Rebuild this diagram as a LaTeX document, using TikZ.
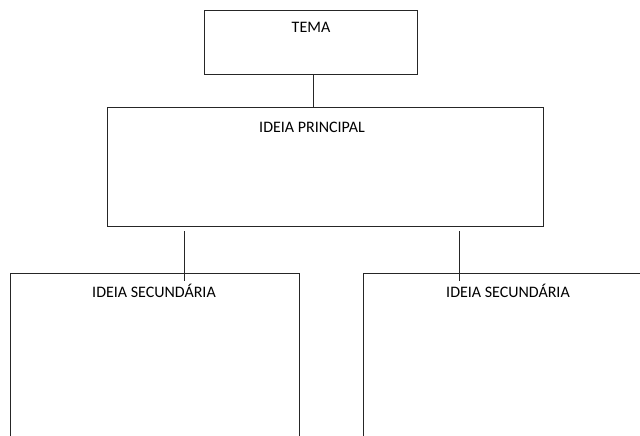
\documentclass[tikz,border=0pt]{standalone}
\usepackage{fontspec}
\setmainfont{Carlito}
\begin{document}
\begin{tikzpicture}[x=1pt,y=-1pt,
  ln/.style={draw=black!85,line width=1pt},
  lbl/.style={font=\fontsize{16}{19}\selectfont,text=black,inner sep=0pt},
  boxnode/.style={ln,rectangle,inner sep=0pt}]
\useasboundingbox (0,0) rectangle (640,436);
% TEMA box
\node[boxnode,minimum width=213pt,minimum height=64pt] (tema) at (311,43) {};
\node[lbl] (temat) at (311,27) {TEMA};
% principal box
\node[boxnode,minimum width=436pt,minimum height=119pt] (princ) at (325.5,166.5) {};
\node[lbl] (princt) at (312,127) {IDEIA PRINCIPAL};
% secondary boxes (open)
\coordinate (lb) at (10,436);
\coordinate (ltl) at (10,273);
\coordinate (ltr) at (299,273);
\coordinate (lbr) at (299,436);
\draw[ln] (lb) -- (ltl) -- (ltr) -- (lbr);
\coordinate (rb) at (363,436);
\coordinate (rtl) at (363,273);
\coordinate (rtr) at (640,273);
\draw[ln] (rb) -- (rtl) -- (rtr);
\node[lbl] (sec1) at (154,291) {IDEIA SECUNDÁRIA};
\node[lbl] (sec2) at (508,291) {IDEIA SECUNDÁRIA};
% connectors
\coordinate (c0a) at (313,0 |- tema.south);
\coordinate (c0b) at (313,0 |- princ.north);
\draw[ln] (c0a) -- (c0b);
\coordinate (c1a) at (184.3,231);
\coordinate (c1b) at (184.3,281);
\coordinate (c2a) at (459.3,231);
\coordinate (c2b) at (459.3,281);
\draw[ln] (c1a) -- (c1b);
\draw[ln] (c2a) -- (c2b);
\end{tikzpicture}
\end{document}
